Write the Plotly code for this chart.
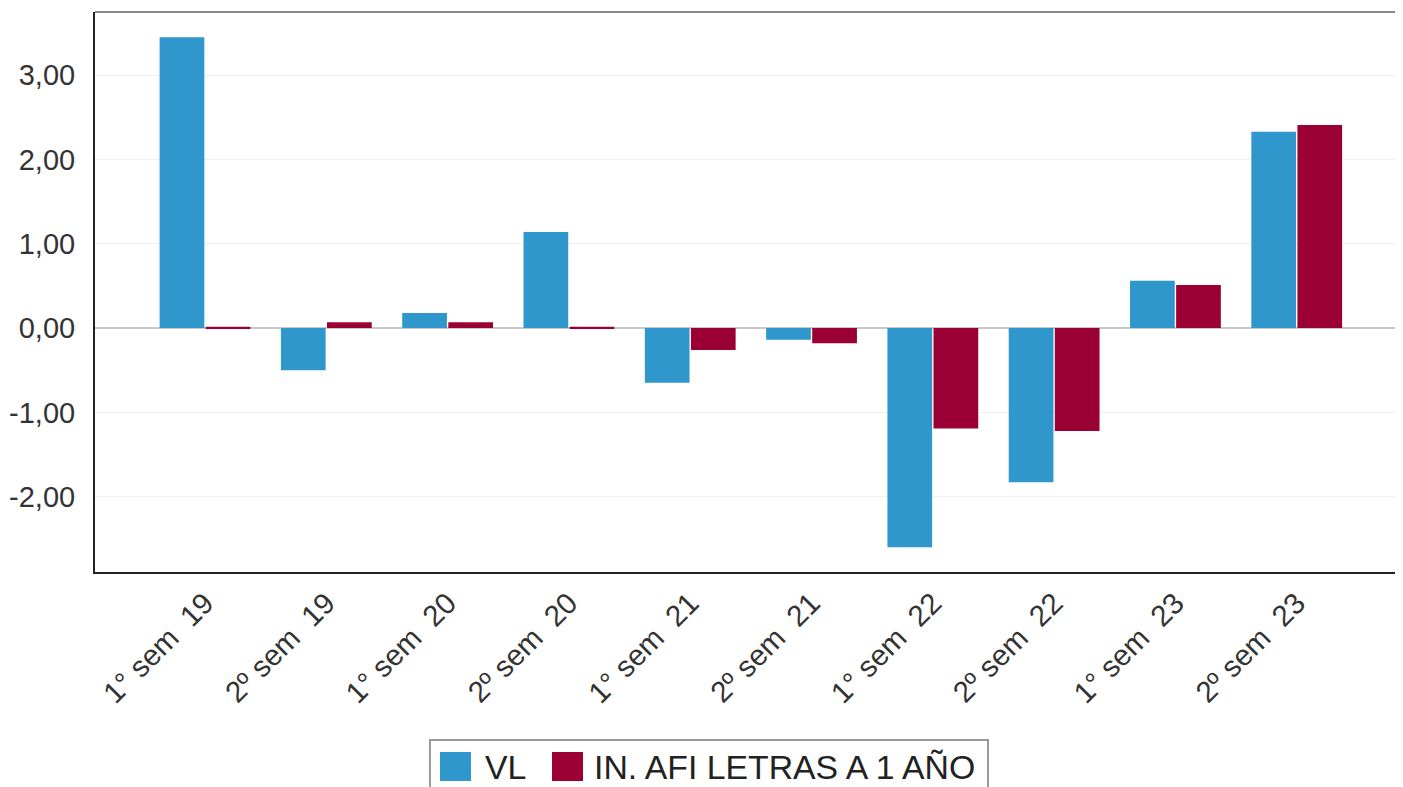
import plotly.graph_objects as go

categories = ["1° sem  19", "2º sem  19", "1° sem  20", "2º sem  20", "1° sem  21",
              "2º sem  21", "1° sem  22", "2º sem  22", "1° sem  23", "2º sem  23"]
vl = [3.45, -0.50, 0.18, 1.14, -0.65, -0.14, -2.60, -1.83, 0.56, 2.33]
afi = [0.015, 0.07, 0.07, 0.015, -0.26, -0.18, -1.19, -1.22, 0.51, 2.41]
series_names = ["VL", "IN. AFI LETRAS A 1 AÑO"]
series_colors = ["#2f97cc", "#9a0033"]
y_ticks = [-2, -1, 0, 1, 2, 3]
y_tick_text = ["-2,00", "-1,00", "0,00", "1,00", "2,00", "3,00"]

# page coordinate helpers (browser body margin of 8px accounted for)
W, H = 1395, 779
L, T, B = 87, 4, 215
PW, PH = W - L, H - T - B


def px(xp):
    return (xp - 8 - L) / PW


def py(yp):
    return (H - B - (yp - 8)) / PH


fig = go.Figure()
fig.add_trace(go.Bar(x=categories, y=vl, name=series_names[0], showlegend=False,
                     marker=dict(color=series_colors[0], line=dict(width=0))))
fig.add_trace(go.Bar(x=categories, y=afi, name=series_names[1], showlegend=False,
                     marker=dict(color=series_colors[1], line=dict(width=0))))

fig.update_layout(
    width=W, height=H,
    margin=dict(l=L, r=0, t=T, b=B, autoexpand=False),
    paper_bgcolor="white", plot_bgcolor="white",
    barmode="group", bargap=0.24, bargroupgap=0.03,
    font=dict(family="Liberation Sans, Arial, sans-serif", color="#333333"),
    xaxis=dict(range=[-0.907, 9.876], tickangle=-45, tickfont=dict(size=29.5, color="#333333"),
               showline=True, linecolor="#222222", linewidth=2, ticks="", showgrid=False),
    yaxis=dict(range=[-2.894, 3.75], tickvals=y_ticks, ticktext=y_tick_text,
               tickfont=dict(size=29, color="#333333"), showgrid=True, gridcolor="#f0f0f0",
               zeroline=True, zerolinecolor="#c8c8c8", zerolinewidth=1.5,
               showline=True, linecolor="#222222", linewidth=2, ticks="",
               ticklabelstandoff=12),
    showlegend=False,
)
# top frame line
fig.add_shape(type="line", xref="paper", yref="paper", x0=0, x1=1, y0=1, y1=1,
              line=dict(color="#888888", width=2))

# manual legend (large square swatches)
fig.add_shape(type="rect", xref="paper", yref="paper", x0=px(430), x1=px(988),
              y0=py(740), y1=py(800), line=dict(color="#999999", width=2),
              fillcolor="rgba(0,0,0,0)")
swatch_x = [440, 552]
text_x = [483, 592]
for sx, tx, name, col in zip(swatch_x, text_x, series_names, series_colors):
    fig.add_shape(type="rect", xref="paper", yref="paper", x0=px(sx), x1=px(sx + 31),
                  y0=py(752), y1=py(781), line=dict(width=0), fillcolor=col)
    fig.add_annotation(xref="paper", yref="paper", x=px(tx), y=py(767), text=name,
                       showarrow=False, xanchor="left", yanchor="middle",
                       font=dict(size=33.8, color="#222222"))

fig.write_html("out.html")
